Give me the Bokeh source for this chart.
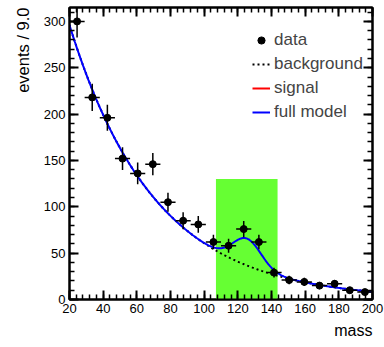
import numpy as np
from bokeh.plotting import figure
from bokeh.models import (Range1d, LinearAxis, SingleIntervalTicker, Legend, LegendItem,
                          Title)
from bokeh.embed import file_html
from bokeh.resources import INLINE

# ---- data ----
bin_centers = [24.5, 33.5, 42.5, 51.5, 60.5, 69.5, 78.5, 87.5, 96.5, 105.5,
               114.5, 123.5, 132.5, 141.5, 150.5, 159.5, 168.5, 177.5, 186.5, 195.5]
counts = [300, 218, 196, 152, 136, 146, 105, 85, 81, 62,
          58, 76, 62, 29, 21, 19, 15, 17, 10, 8]
bin_half_width = 4.5

# fitted model parameters
bkg_norm = 296.0      # background value at mass = 20
bkg_slope = 0.0198    # exponential slope
sig_mean = 125.5
sig_sigma = 8.5
sig_amp = 29.0

# highlighted signal window
window = [107.0, 143.6]
window_top = 130.0

x_ticks_interval = 20
y_ticks_interval = 50

FONT = "Liberation Sans"

# ---- derived ----
xs = np.linspace(20, 200, 400)
bkg = bkg_norm * np.exp(-bkg_slope * (xs - 20))
sig = sig_amp * np.exp(-0.5 * ((xs - sig_mean) / sig_sigma) ** 2)
full = bkg + sig

xc = np.array(bin_centers)
yc = np.array(counts, dtype=float)
err = np.sqrt(yc)

p = figure(width=384, height=347, output_backend="svg", toolbar_location=None,
           x_range=Range1d(20, 200), y_range=Range1d(0, 315),
           x_axis_location=None, y_axis_location=None,
           min_border_left=69, min_border_right=12, min_border_top=7, min_border_bottom=48)
p.grid.visible = False
p.outline_line_color = "black"
p.outline_line_width = 2
p.background_fill_color = "white"
p.border_fill_color = "white"


def make_axis(ticker_interval, show_labels):
    ax = LinearAxis(ticker=SingleIntervalTicker(interval=ticker_interval, num_minor_ticks=5))
    ax.axis_line_width = 2
    ax.axis_line_color = "black"
    ax.major_tick_in = 9
    ax.major_tick_out = 0
    ax.minor_tick_in = 5
    ax.minor_tick_out = 0
    ax.major_tick_line_width = 2
    ax.minor_tick_line_width = 1.5
    ax.major_tick_line_color = "black"
    ax.minor_tick_line_color = "black"
    if show_labels:
        ax.major_label_text_font = FONT
        ax.major_label_text_font_size = "13px"
        ax.major_label_text_color = "black"
        ax.major_label_standoff = 4
    else:
        ax.major_label_text_font_size = "0px"
        ax.major_label_standoff = 0
    return ax


p.add_layout(make_axis(x_ticks_interval, True), "below")
p.add_layout(make_axis(x_ticks_interval, False), "above")
p.add_layout(make_axis(y_ticks_interval, True), "left")
p.add_layout(make_axis(y_ticks_interval, False), "right")

# axis titles
p.add_layout(Title(text="mass", align="right", text_font=FONT, text_font_size="16px",
                   text_font_style="normal", text_color="black", standoff=8), "below")
p.add_layout(Title(text="events / 9.0", align="right", text_font=FONT, text_font_size="16.5px",
                   text_font_style="normal", text_color="black", standoff=18), "left")

# signal window box
p.quad(left=[window[0]], right=[window[1]], bottom=[0], top=[window_top],
       fill_color="#66ff33", line_color=None)

# background (dotted)
r_bkg = p.line(xs, bkg, line_color="black", line_width=2, line_dash="2 3")
# signal (legend only, nothing visible drawn)
r_sig = p.line(x=[np.nan], y=[np.nan], line_color="red", line_width=2)
# full model
r_full = p.line(xs, full, line_color="blue", line_width=2)

# data with error bars
p.segment(x0=xc, x1=xc, y0=yc - err, y1=yc + err, line_color="black", line_width=1.5)
p.segment(x0=xc - bin_half_width, x1=xc + bin_half_width, y0=yc, y1=yc,
          line_color="black", line_width=1.5)
r_data = p.scatter(xc, yc, size=7, fill_color="black", line_color="black")

legend = Legend(items=[LegendItem(label="data", renderers=[r_data]),
                       LegendItem(label="background", renderers=[r_bkg]),
                       LegendItem(label="signal", renderers=[r_sig]),
                       LegendItem(label="full model", renderers=[r_full])],
                location=(178, 172))
legend.label_text_font = FONT
legend.label_text_font_size = "17px"
legend.glyph_width = 18
legend.glyph_height = 20
legend.label_height = 21
legend.spacing = 3
legend.padding = 5
legend.margin = 0
legend.label_standoff = 4
legend.background_fill_alpha = 0
legend.border_line_alpha = 0
p.add_layout(legend, "center")

open("out.html", "w").write(file_html(p, INLINE))
